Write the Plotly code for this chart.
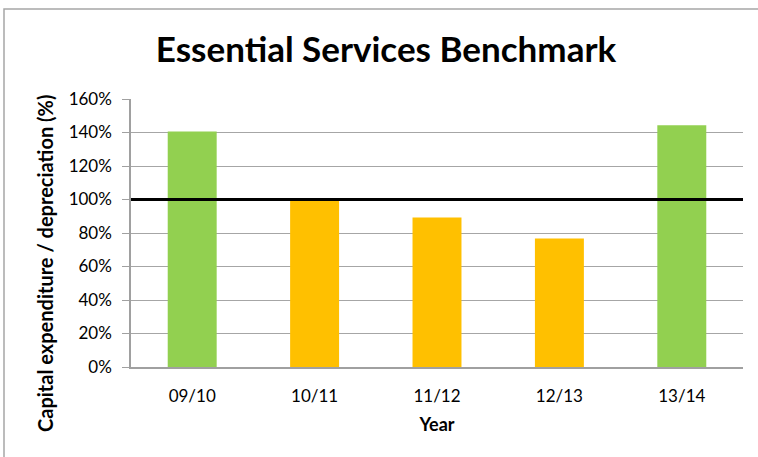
import plotly.graph_objects as go

years = ["09/10", "10/11", "11/12", "12/13", "13/14"]
capex_ratio = [140.6, 99.2, 89.3, 76.7, 144.4]
benchmark = 100
y_ticks = [0, 20, 40, 60, 80, 100, 120, 140, 160]
y_tick_labels = [f"{v}%" for v in y_ticks]

GREEN = "#92D050"
YELLOW = "#FFC000"
bar_colors = [GREEN if v >= benchmark else YELLOW for v in capex_ratio]
FONT = "Lato"

L, R, T, B = 131, 15, 99, 90
W, H = 758, 457
pw, ph = W - L - R, H - T - B

fig = go.Figure()
fig.add_trace(go.Bar(
    x=years, y=capex_ratio,
    marker=dict(color=bar_colors, line=dict(width=0)),
    width=0.4,
    hoverinfo="x+y",
))

fig.add_shape(type="line", xref="paper", yref="y", x0=0, x1=1,
              y0=benchmark, y1=benchmark,
              line=dict(color="black", width=3), layer="above")

# chart outer border (extends past the right/bottom edge)
fig.add_shape(type="rect", xref="paper", yref="paper",
              x0=(4 - L) / pw, x1=(W + 20 - L) / pw,
              y0=(H - B - (H + 20)) / ph, y1=(H - B - 9) / ph,
              line=dict(color="#A6A6A6", width=1.5), layer="below")

# y axis title (Excel centres it lower than the plot centre)
fig.add_annotation(text="<b>Capital expenditure / depreciation (%)</b>",
                   xref="paper", yref="paper",
                   x=(45 - L) / pw, y=(H - B - 264) / ph,
                   xanchor="center", yanchor="middle", textangle=-90,
                   showarrow=False,
                   font=dict(family=FONT, size=20, color="black"))

fig.update_layout(
    width=W, height=H,
    margin=dict(l=L, r=R, t=T, b=B, autoexpand=False),
    paper_bgcolor="white", plot_bgcolor="white",
    showlegend=False,
    title=dict(text="<b>Essential Services Benchmark</b>",
               font=dict(family=FONT, size=35, color="black"),
               xref="container", yref="container",
               x=386 / W, xanchor="center",
               y=1 - 50 / H, yanchor="middle"),
    font=dict(family=FONT, color="black"),
    xaxis=dict(
        showgrid=False, showline=True, linecolor="#A0A0A0", linewidth=1.5,
        ticks="", tickfont=dict(family=FONT, size=17, color="black"),
        ticklabelstandoff=13,
        title=dict(text="<b>Year</b>", font=dict(family=FONT, size=18, color="black"),
                   standoff=13),
    ),
    yaxis=dict(
        range=[0, 160], tickvals=y_ticks, ticktext=y_tick_labels,
        showgrid=True, gridcolor="#A6A6A6", gridwidth=1.2,
        showline=True, linecolor="#A0A0A0", linewidth=1.5,
        ticks="outside", ticklen=7, tickcolor="#A0A0A0", tickwidth=1.2,
        tickfont=dict(family=FONT, size=17, color="black"),
        ticklabelstandoff=7,
        zeroline=False,
    ),
)

fig.write_html("out.html",
               config={"displayModeBar": False},
               post_script="document.body.style.margin='0';document.body.style.overflow='hidden';")
